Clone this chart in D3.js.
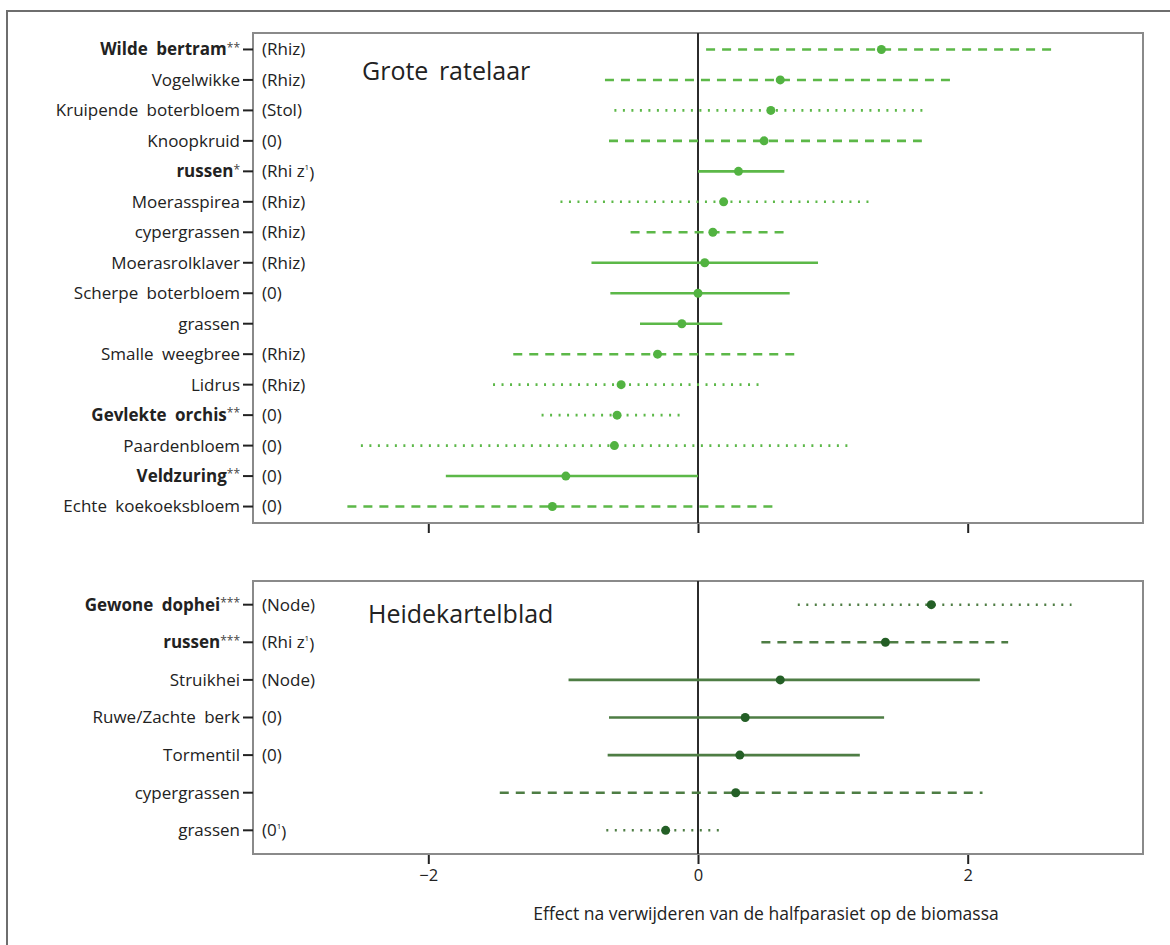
<!DOCTYPE html>
<html>
<head>
<meta charset="utf-8">
<script src="https://cdn.jsdelivr.net/npm/d3@7"></script>
<style>
  body { margin: 0; background: #fff; }
  svg text { font-family: "Open Sans", "Noto Sans", sans-serif; fill: #222; }
</style>
</head>
<body>
<div id="chart"></div>
<script>
// --- data: Grote ratelaar (top panel)
var topSpecies = ["Wilde bertram", "Vogelwikke", "Kruipende boterbloem", "Knoopkruid", "russen",
  "Moerasspirea", "cypergrassen", "Moerasrolklaver", "Scherpe boterbloem", "grassen",
  "Smalle weegbree", "Lidrus", "Gevlekte orchis", "Paardenbloem", "Veldzuring", "Echte koekoeksbloem"];
var topStars = ["**", "", "", "", "*", "", "", "", "", "", "", "", "**", "", "**", ""];
var topGrowth = ["Rhiz", "Rhiz", "Stol", "0", "Rhi z", "Rhiz", "Rhiz", "Rhiz", "0", "", "Rhiz", "Rhiz", "0", "0", "0", "0"];
var topGrowthSup = ["", "", "", "", "1", "", "", "", "", "", "", "", "", "", "", ""];
var topEst = [1.36, 0.61, 0.54, 0.49, 0.30, 0.19, 0.11, 0.05, 0.0, -0.12, -0.30, -0.57, -0.60, -0.62, -0.98, -1.08];
var topLo = [0.06, -0.69, -0.62, -0.66, 0.0, -1.02, -0.50, -0.79, -0.65, -0.43, -1.37, -1.52, -1.16, -2.50, -1.87, -2.60];
var topHi = [2.65, 1.90, 1.67, 1.66, 0.64, 1.27, 0.68, 0.89, 0.68, 0.18, 0.72, 0.45, -0.13, 1.13, 0.0, 0.58];
var topStyle = ["dash", "dash", "dot", "dash", "solid", "dot", "dash", "solid", "solid", "solid",
  "dash", "dot", "dot", "dot", "solid", "dash"];

// --- data: Heidekartelblad (bottom panel)
var botSpecies = ["Gewone dophei", "russen", "Struikhei", "Ruwe/Zachte berk", "Tormentil", "cypergrassen", "grassen"];
var botStars = ["***", "***", "", "", "", "", ""];
var botGrowth = ["Node", "Rhi z", "Node", "0", "0", "", "0"];
var botGrowthSup = ["", "1", "", "", "", "", "1"];
var botEst = [1.73, 1.39, 0.61, 0.35, 0.31, 0.28, -0.24];
var botLo = [0.74, 0.47, -0.96, -0.66, -0.67, -1.47, -0.68];
var botHi = [2.77, 2.30, 2.09, 1.38, 1.20, 2.11, 0.16];
var botStyle = ["dot", "dash", "solid", "solid", "solid", "dash", "dot"];

var xTicks = [-2, 0, 2];
var xTitle = "Effect na verwijderen van de halfparasiet op de biomassa";

var width = 1170, height = 945;
var left = 253, right = 1143;

var svg = d3.select("#chart").append("svg")
  .attr("width", width).attr("height", height);

// outer frame (top + left edges visible)
svg.append("path")
  .attr("d", "M7,945 L7,11 L1170,11")
  .attr("fill", "none").attr("stroke", "#6e6e6e").attr("stroke-width", 2);

var x = d3.scaleLinear().domain([-3.3, 3.3]).range([left, right]);

var dashes = { solid: null, dash: "9,7", dot: "2,6.5" };

function panel(cfg) {
  var rows = d3.range(cfg.species.length);
  var y = d3.scalePoint().domain(rows).range([cfg.top, cfg.bottom]).padding(cfg.pad);
  var g = svg.append("g");

  // axis ticks below panel
  var axis = d3.axisBottom(x).tickValues(xTicks).tickSize(10).tickPadding(5)
    .tickFormat(cfg.labels ? d3.format("") : "");
  var ax = g.append("g").attr("transform", "translate(0," + cfg.bottom + ")").call(axis);
  ax.select(".domain").remove();
  ax.selectAll(".tick line").attr("stroke", "#222").attr("stroke-width", 2);
  ax.selectAll(".tick text").attr("font-size", 16.5).attr("fill", "#222")
    .attr("font-family", "'Open Sans', sans-serif");

  // frame
  g.append("rect")
    .attr("x", left).attr("y", cfg.top)
    .attr("width", right - left).attr("height", cfg.bottom - cfg.top)
    .attr("fill", "none").attr("stroke", "#8a8a8a").attr("stroke-width", 2);

  // zero line
  g.append("line")
    .attr("x1", x(0)).attr("x2", x(0)).attr("y1", cfg.top).attr("y2", cfg.bottom)
    .attr("stroke", "#2b2b2b").attr("stroke-width", 2);

  // left ticks + species labels
  g.selectAll(".ytick").data(rows).enter().append("line")
    .attr("x1", left - 10).attr("x2", left)
    .attr("y1", function (d) { return y(d); }).attr("y2", function (d) { return y(d); })
    .attr("stroke", "#222").attr("stroke-width", 2);

  var lab = g.selectAll(".ylab").data(rows).enter().append("text")
    .attr("x", left - 13).attr("y", function (d) { return y(d); })
    .attr("dy", "0.35em").attr("text-anchor", "end")
    .attr("font-size", 17).attr("word-spacing", 4);
  lab.append("tspan")
    .attr("font-weight", function (d) { return cfg.stars[d] ? "bold" : "normal"; })
    .text(function (d) { return cfg.species[d]; });
  lab.append("tspan")
    .attr("font-size", 12).attr("fill", "#444").attr("dy", "-0.3em")
    .text(function (d) { return cfg.stars[d]; });

  // growth form
  var gf = g.selectAll(".gf").data(rows.filter(function (d) { return cfg.growth[d] !== ""; }))
    .enter().append("text")
    .attr("x", left + 9).attr("y", function (d) { return y(d); })
    .attr("dy", "0.35em").attr("font-size", 17);
  gf.append("tspan").text(function (d) { return "(" + cfg.growth[d]; });
  gf.append("tspan").attr("font-size", 8).attr("dy", "-0.9em")
    .text(function (d) { return cfg.sup[d]; });
  gf.append("tspan").attr("dy", function (d) { return cfg.sup[d] ? "0.5em" : 0; }).text(")");

  // title
  g.append("text").attr("x", cfg.titleX).attr("y", cfg.titleY)
    .attr("font-size", 25).attr("word-spacing", 4).text(cfg.title);

  // intervals
  g.selectAll(".ci").data(rows).enter().append("line")
    .attr("x1", function (d) { return x(cfg.lo[d]); })
    .attr("x2", function (d) { return x(cfg.hi[d]); })
    .attr("y1", function (d) { return y(d); }).attr("y2", function (d) { return y(d); })
    .attr("stroke", cfg.lineColor).attr("stroke-width", 2.6)
    .attr("stroke-dasharray", function (d) { return dashes[cfg.style[d]]; });

  g.selectAll(".pt").data(rows).enter().append("circle")
    .attr("cx", function (d) { return x(cfg.est[d]); })
    .attr("cy", function (d) { return y(d); })
    .attr("r", 4.5).attr("fill", cfg.dotColor);
}

panel({
  species: topSpecies, stars: topStars, growth: topGrowth, sup: topGrowthSup,
  est: topEst, lo: topLo, hi: topHi, style: topStyle,
  top: 33, bottom: 523, pad: 0.54, labels: false,
  title: "Grote ratelaar", titleX: 362, titleY: 80,
  lineColor: "#5cb848", dotColor: "#52b341"
});

panel({
  species: botSpecies, stars: botStars, growth: botGrowth, sup: botGrowthSup,
  est: botEst, lo: botLo, hi: botHi, style: botStyle,
  top: 581, bottom: 854, pad: 0.63, labels: true,
  title: "Heidekartelblad", titleX: 368, titleY: 623,
  lineColor: "#4e7d44", dotColor: "#245f26"
});

svg.append("text")
  .attr("x", 766).attr("y", 920).attr("text-anchor", "middle")
  .attr("font-size", 17.5).text(xTitle);
</script>
</body>
</html>
